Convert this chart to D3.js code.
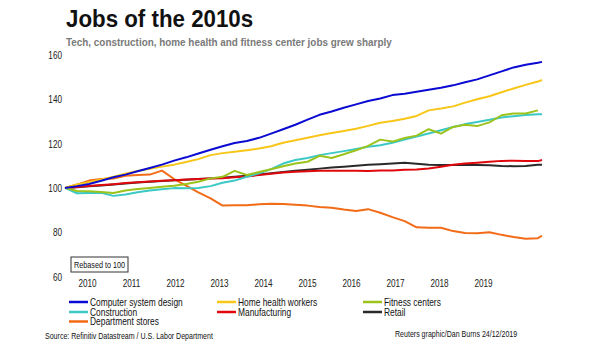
<!DOCTYPE html>
<html>
<head>
<meta charset="utf-8">
<script src="https://cdn.jsdelivr.net/npm/d3@7"></script>
<style>
    body { margin: 0; background: #fff; }
    text { font-family: "Liberation Sans", Arial, sans-serif; }
</style>
</head>
<body>
<div id="chart"></div>
<script>
// quarterly readings, Jan 2010 .. Oct 2019, then Nov 2019
var dates = d3.timeMonth.every(3).range(new Date(2010, 0, 1), new Date(2019, 11, 1))
dates.push(new Date(2019, 10, 1))

var computerDesign = [100, 100.8, 101.8, 103.2, 104.8, 106.0, 107.5, 109.0, 110.5, 112.3,
    113.8, 115.5, 117.2, 118.8, 120.3, 121.2, 122.6, 124.5, 126.5, 128.5,
    130.8, 133.0, 134.5, 136.2, 137.7, 139.2, 140.4, 141.9, 142.5, 143.4,
    144.3, 145.2, 146.3, 147.7, 149.0, 150.8, 152.6, 154.4, 155.6, 156.5, 156.9]
var homeHealth = [100, 101.5, 102.6, 103.8, 105.0, 106.4, 107.6, 108.6, 109.6, 110.5,
    111.7, 113.0, 114.8, 115.7, 116.3, 117.0, 117.8, 118.8, 120.4, 121.5,
    122.6, 123.8, 124.8, 125.7, 126.7, 128.0, 129.4, 130.2, 131.2, 132.5,
    135.0, 135.8, 136.8, 138.5, 140.0, 141.4, 143.2, 144.9, 146.5, 148.0, 148.7]
var fitness = [100, 98.6, 98.5, 98.2, 97.7, 98.8, 99.5, 100.0, 100.5, 101.0,
    101.8, 102.8, 104.3, 105.0, 107.7, 105.8, 107.2, 108.4, 109.8, 111.0,
    111.8, 114.5, 113.5, 115.2, 117.0, 119.0, 121.8, 120.9, 122.5, 123.6,
    126.5, 124.5, 127.5, 128.5, 127.9, 129.6, 132.8, 133.6, 133.6, 135.0, null]
var construction = [100, 97.6, 97.7, 97.8, 96.4, 97.0, 98.0, 98.8, 99.4, 99.9,
    99.8, 100.0, 100.8, 102.3, 103.3, 105.0, 106.6, 108.5, 111.0, 112.6,
    113.5, 114.8, 115.7, 116.6, 117.6, 118.6, 119.3, 120.4, 121.8, 123.2,
    124.6, 126.0, 127.5, 128.8, 129.8, 130.8, 131.8, 132.4, 132.9, 133.2, 133.3]
var manufacturing = [100, 100.4, 100.9, 101.3, 101.7, 102.2, 102.6, 102.9, 103.2, 103.5,
    103.8, 104.0, 104.2, 104.4, 104.8, 105.2, 105.8, 106.4, 107.0, 107.3,
    107.5, 107.7, 107.7, 107.7, 107.7, 107.6, 107.8, 107.9, 108.2, 108.3,
    108.8, 109.6, 110.4, 111.0, 111.4, 111.8, 112.2, 112.3, 112.2, 112.1, 112.6]
var retail = [100, 100.3, 100.7, 101.1, 101.5, 102.0, 102.4, 102.8, 103.1, 103.4,
    103.7, 104.0, 104.3, 104.6, 105.0, 105.5, 106.0, 106.6, 107.2, 107.7,
    108.2, 108.7, 109.2, 109.6, 110.0, 110.4, 110.7, 111.0, 111.3, 110.9,
    110.5, 110.3, 110.3, 110.3, 110.3, 110.2, 109.9, 109.8, 109.9, 110.4, 110.5]
var deptStores = [100, 101.5, 103.3, 104.0, 104.2, 105.5, 105.8, 106.0, 107.8, 104.0,
    101.0, 98.0, 95.3, 92.0, 92.2, 92.2, 92.6, 92.9, 92.7, 92.4,
    92.0, 91.4, 91.0, 90.2, 89.6, 90.4, 88.8, 86.8, 85.0, 82.2,
    82.0, 82.0, 80.5, 79.6, 79.5, 80.0, 78.8, 77.8, 77.0, 77.3, 78.4]

var seriesNames = ["Computer system design", "Home health workers", "Fitness centers",
    "Construction", "Manufacturing", "Retail", "Department stores"]
var seriesValues = [computerDesign, homeHealth, fitness, construction, manufacturing, retail, deptStores]
var seriesColors = ["#0a0ad2", "#f7c618", "#9cc31c", "#3cc9c6", "#e0080c", "#2a2a2a", "#f26b16"]

var yTicks = [60, 80, 100, 120, 140, 160]
var yearLabels = ["2010", "2011", "2012", "2013", "2014", "2015", "2016", "2017", "2018", "2019"]

var width = 605, height = 341

// the original's type is a narrow sans: squeeze text horizontally around its anchor
function squeeze(sel, k) {
    sel.each(function() {
        var t = d3.select(this)
        var tx = +t.attr("x") || 0, ty = +t.attr("y") || 0
        t.attr("x", 0).attr("y", 0)
            .attr("transform", "translate(" + tx + "," + ty + ") scale(" + k + ",1)")
    })
}

var svg = d3.select("#chart")
    .append("svg")
        .attr("width", width)
        .attr("height", height)
        .attr("xmlns", "http://www.w3.org/2000/svg")

svg.append("rect")
    .attr("width", width)
    .attr("height", height)
    .attr("fill", "#fff")

svg.append("text")
    .attr("x", 66)
    .attr("y", 27)
    .attr("font-size", 24)
    .attr("font-weight", "bold")
    .attr("fill", "#111")
    .text("Jobs of the 2010s")
    .call(squeeze, 0.93)

svg.append("text")
    .attr("x", 66)
    .attr("y", 46)
    .attr("font-size", 11)
    .attr("font-weight", "bold")
    .attr("fill", "#7a7a7a")
    .text("Tech, construction, home health and fitness center jobs grew sharply")
    .call(squeeze, 0.9)

var x = d3.scaleTime()
    .domain([dates[0], dates[dates.length - 1]])
    .range([65, 542])

var y = d3.scaleLinear()
    .domain([60, 160])
    .range([276.5, 55])

// year labels sit on their own evenly spaced slots, as in the original
var xLabels = d3.scalePoint()
    .domain(yearLabels)
    .range([87, 483])

var yAxis = svg.append("g")
    .attr("transform", "translate(62,0)")
    .call(d3.axisLeft(y).tickValues(yTicks).tickSize(0).tickPadding(0))
yAxis.select(".domain").remove()
yAxis.selectAll("text")
    .attr("font-size", 10)
    .attr("font-family", "Liberation Sans, Arial, sans-serif")
    .attr("fill", "#222")
    .attr("dy", "0.35em")
    .call(squeeze, 0.82)

var xAxis = svg.append("g")
    .attr("transform", "translate(0,287)")
    .call(d3.axisBottom(xLabels).tickSize(0).tickPadding(0))
xAxis.select(".domain").remove()
xAxis.selectAll("text")
    .attr("font-size", 10)
    .attr("font-family", "Liberation Sans, Arial, sans-serif")
    .attr("fill", "#222")
    .attr("dy", 0)
    .call(squeeze, 0.82)

var line = d3.line()
    .defined(function(d) { return d[1] != null })
    .x(function(d) { return x(d[0]) })
    .y(function(d) { return y(d[1]) })

// draw back to front so blue/yellow sit on top like the original
var drawOrder = [6, 5, 4, 3, 2, 1, 0]
drawOrder.forEach(function(i) {
    var pts = seriesValues[i].map(function(v, j) { return [dates[j], v] })
    svg.append("path")
        .datum(pts)
        .attr("fill", "none")
        .attr("stroke", seriesColors[i])
        .attr("stroke-width", 2)
        .attr("stroke-linejoin", "round")
        .attr("d", line)
})

var rebased = svg.append("g")
    .attr("transform", "translate(71,257)")
rebased.append("rect")
    .attr("width", 57)
    .attr("height", 15)
    .attr("fill", "#fff")
    .attr("stroke", "#333")
    .attr("stroke-width", 1)
rebased.append("text")
    .attr("x", 28.5)
    .attr("y", 10.8)
    .attr("text-anchor", "middle")
    .attr("font-size", 8.5)
    .attr("fill", "#111")
    .text("Rebased to 100")
    .call(squeeze, 0.85)

var legendCols = [69, 217, 363]
var legendRows = [302, 312, 321.5]

var legend = svg.append("g")
    .selectAll("g")
    .data(seriesNames)
    .join("g")
        .attr("transform", function(d, i) {
            return "translate(" + legendCols[i % 3] + "," + legendRows[Math.floor(i / 3)] + ")"
        })

legend.append("line")
    .attr("x1", 0)
    .attr("x2", 19)
    .attr("stroke", function(d, i) { return seriesColors[i] })
    .attr("stroke-width", 2.5)

legend.append("text")
    .attr("x", 21)
    .attr("y", 3.6)
    .attr("font-size", 10)
    .attr("fill", "#111")
    .text(function(d) { return d })
    .call(squeeze, 0.84)

svg.append("text")
    .attr("x", 45)
    .attr("y", 338.5)
    .attr("font-size", 8.5)
    .attr("fill", "#111")
    .text("Source: Refinitiv Datastream / U.S. Labor Department")
    .call(squeeze, 0.83)

svg.append("text")
    .attr("x", 395)
    .attr("y", 336.5)
    .attr("font-size", 8.5)
    .attr("fill", "#111")
    .text("Reuters graphic/Dan Burns 24/12/2019")
    .call(squeeze, 0.83)
</script>
</body>
</html>
